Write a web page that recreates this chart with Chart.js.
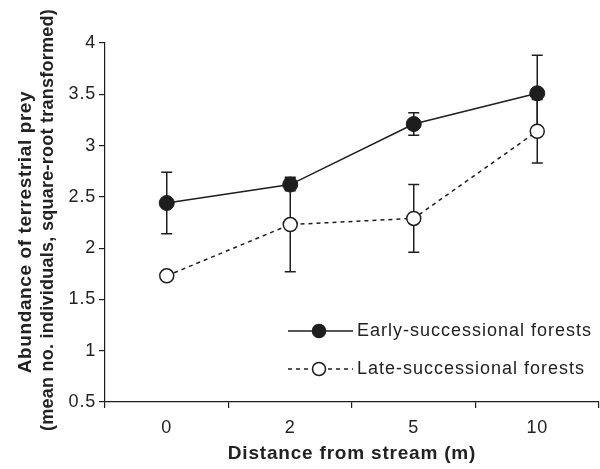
<!DOCTYPE html>
<html>
<head>
<meta charset="utf-8">
<script src="https://cdn.jsdelivr.net/npm/chart.js@4"></script>
<style>
  html, body { margin: 0; padding: 0; background: #fff; }
  #wrap { width: 600px; height: 469px; }
</style>
</head>
<body>
<div id="wrap"><canvas id="chart" width="600" height="469"></canvas></div>
<script>
// distances (categorical axis)
const distances = ['0', '2', '5', '10'];

// early-successional forests
const earlyMean = [2.44, 2.62, 3.21, 3.51];
const earlyErr  = [0.30, 0.06, 0.11, 0.37];

// late-successional forests
const lateMean = [1.73, 2.23, 2.29, 3.14];
const lateErr  = [0.03, 0.46, 0.33, 0.31];

const yTicks = [0.5, 1, 1.5, 2, 2.5, 3, 3.5, 4];

const FONT = '"Liberation Sans", Arial, Helvetica, sans-serif';
const INK = '#1e1e1e';
const DASH = [4, 4];

// the original lettering is a bit wider than Arial
const spacing = {
    id: 'spacing',
    beforeLayout(chart) { chart.ctx.letterSpacing = '0.8px'; },
    beforeDraw(chart) { chart.ctx.letterSpacing = '0.8px'; }
};

// error bars, drawn under the markers
const errorBars = {
    id: 'errorBars',
    beforeDatasetsDraw(chart) {
        const ctx = chart.ctx;
        const x = chart.scales.x, y = chart.scales.y;
        const sets = [[earlyMean, earlyErr], [lateMean, lateErr]];
        ctx.save();
        ctx.strokeStyle = INK;
        ctx.lineWidth = 1.5;
        sets.forEach(([m, e]) => {
            m.forEach((v, i) => {
                const px = x.getPixelForValue(i);
                const top = y.getPixelForValue(v + e[i]);
                const bot = y.getPixelForValue(v - e[i]);
                ctx.beginPath();
                ctx.moveTo(px, top); ctx.lineTo(px, bot);
                ctx.moveTo(px - 5.5, top); ctx.lineTo(px + 5.5, top);
                ctx.moveTo(px - 5.5, bot); ctx.lineTo(px + 5.5, bot);
                ctx.stroke();
            });
        });
        ctx.restore();
    }
};

// legend inside the plot + two-line y title
const extras = {
    id: 'extras',
    afterDraw(chart) {
        const ctx = chart.ctx;
        const a = chart.chartArea;
        ctx.save();
        ctx.letterSpacing = '1px';
        const items = [
            { text: 'Early-successional forests', dash: [], fill: INK, y: a.top + 288 },
            { text: 'Late-successional forests', dash: DASH, fill: '#fff', y: a.top + 326 }
        ];
        items.forEach(it => {
            const x0 = a.left + 183, x1 = a.left + 248, xm = a.left + 214;
            ctx.strokeStyle = INK;
            ctx.lineWidth = 1.5;
            ctx.setLineDash(it.dash);
            ctx.beginPath();
            ctx.moveTo(x0, it.y); ctx.lineTo(x1, it.y);
            ctx.stroke();
            ctx.setLineDash([]);
            ctx.beginPath();
            ctx.arc(xm, it.y, 6.5, 0, Math.PI * 2);
            ctx.fillStyle = it.fill;
            ctx.fill();
            ctx.stroke();
            ctx.fillStyle = '#222';
            ctx.font = '18px ' + FONT;
            ctx.textAlign = 'left';
            ctx.textBaseline = 'middle';
            ctx.fillText(it.text, a.left + 252, it.y);
        });

        // y axis title
        ctx.fillStyle = '#222';
        ctx.font = 'bold 19px ' + FONT;
        ctx.letterSpacing = '0.6px';
        ctx.textAlign = 'center';
        ctx.textBaseline = 'middle';
        ctx.translate(26, 232);
        ctx.rotate(-Math.PI / 2);
        ctx.fillText('Abundance of terrestrial prey', 0, 0);
        ctx.restore();
        ctx.save();
        ctx.fillStyle = '#222';
        ctx.font = 'bold 18px ' + FONT;
        ctx.letterSpacing = '0.25px';
        ctx.textAlign = 'center';
        ctx.textBaseline = 'middle';
        ctx.translate(48, 220);
        ctx.rotate(-Math.PI / 2);
        ctx.fillText('(mean no. individuals, square-root transformed)', 0, 0);
        ctx.restore();
    }
};

new Chart(document.getElementById('chart'), {
    type: 'line',
    data: {
        labels: distances,
        datasets: [
            {
                label: 'Early-successional forests',
                data: earlyMean,
                borderColor: INK,
                borderWidth: 1.5,
                pointRadius: 7.5,
                pointBackgroundColor: INK,
                pointBorderColor: INK,
                pointBorderWidth: 1,
                tension: 0
            },
            {
                label: 'Late-successional forests',
                data: lateMean,
                borderColor: INK,
                borderWidth: 1.5,
                borderDash: DASH,
                pointRadius: 7,
                pointBackgroundColor: '#fff',
                pointBorderColor: INK,
                pointBorderWidth: 1.5,
                tension: 0
            }
        ]
    },
    options: {
        responsive: false,
        animation: false,
        layout: { autoPadding: false, padding: { top: 43, right: 1, left: 0, bottom: 0 } },
        plugins: {
            legend: { display: false },
            tooltip: { enabled: false }
        },
        scales: {
            x: {
                type: 'category',
                offset: true,
                grid: { offset: true, drawOnChartArea: false, tickLength: 6, color: INK, lineWidth: 1.2 },
                border: { color: INK, width: 1.2 },
                ticks: { color: '#222', font: { family: FONT, size: 18 }, padding: 9 },
                title: {
                    display: true,
                    text: 'Distance from stream (m)',
                    color: '#222',
                    font: { family: FONT, size: 19, weight: 'bold' },
                    padding: { top: 4 }
                },
                afterFit: s => { s.height = 67; s.paddingLeft = 0; s.paddingRight = 0; }
            },
            y: {
                min: 0.5,
                max: 4,
                afterBuildTicks: s => { s.ticks = yTicks.map(v => ({ value: v })); },
                grid: { drawOnChartArea: false, tickLength: 6, color: INK, lineWidth: 1.2 },
                border: { color: INK, width: 1.2 },
                ticks: {
                    color: '#222',
                    font: { family: FONT, size: 18 },
                    padding: 3,
                    callback: v => String(v)
                },
                afterFit: s => { s.width = 105; }
            }
        }
    },
    plugins: [spacing, errorBars, extras]
});
</script>
</body>
</html>
